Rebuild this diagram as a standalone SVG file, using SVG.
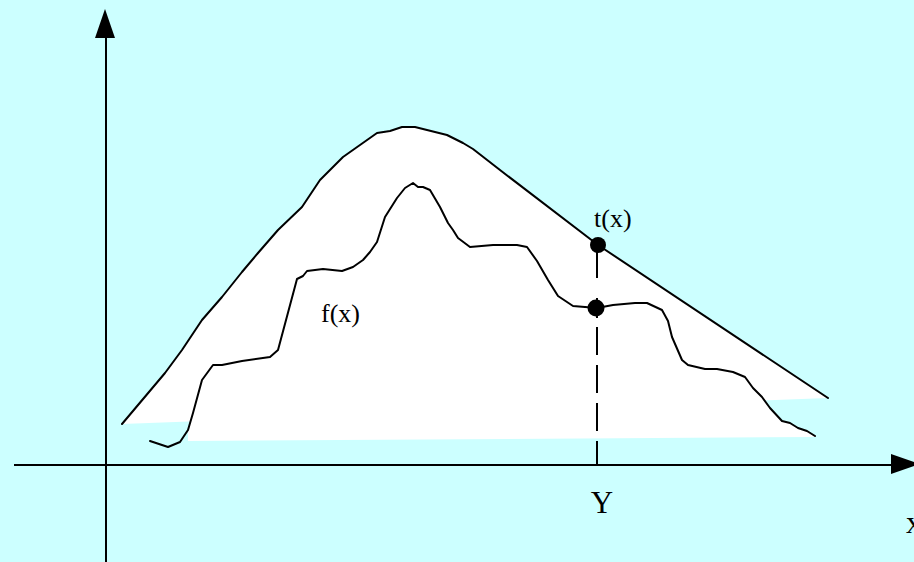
<svg xmlns="http://www.w3.org/2000/svg" width="914" height="562" viewBox="0 0 914 562">
<style>
.curve{fill:none;stroke:#000;stroke-width:2;stroke-linejoin:round;stroke-linecap:round}
.fillw{fill:#fff;stroke:none}
.axis{stroke:#000;stroke-width:2;fill:none}
.lbl{font-family:"Liberation Serif","Times New Roman",serif;fill:#000}
.dot{fill:#000}
</style>
<rect x="0" y="0" width="914" height="562" fill="#CCFFFF"/>
<g id="regions">
<polygon class="fillw" points="122,424 165,373 182,350 202,320 222,297 242,272 258,253 278,230 302,207 320,180 343,157 360,145 377,133 390,131 402,127 415,127 427,130 447,135 463,143 473,149 500,170 598,245 828,398"/>
<polygon class="fillw" points="188,430 193,413 202,380 213,365 222,365 242,361 270,357 278,350 297,279 303,276 307,271 323,269 342,271 353,267 363,260 370,252 377,242 385,217 397,198 405,188 413,183 418,187 423,187 430,190 440,207 448,223 453,230 458,238 470,247 493,245 517,245 527,247 537,261 548,280 558,296 573,306 597,308 613,305 635,303 647,303 662,310 668,321 672,337 682,360 688,365 705,369 717,369 733,372 745,377 753,388 762,397 770,408 782,421 790,423 798,428 807,431 815,436 815,437 188,441"/>
</g>
<g id="axes">
<line class="axis" x1="106" y1="562" x2="106" y2="36"/>
<polygon points="105,9 95,38 115,38" fill="#000"/>
<line class="axis" x1="14" y1="465" x2="893" y2="465"/>
<polygon points="891,454 891,474 920,464" fill="#000"/>
</g>
<g id="t-curve">
<polyline class="curve" points="122,424 165,373 182,350 202,320 222,297 242,272 258,253 278,230 302,207 320,180 343,157 360,145 377,133 390,131 402,127 415,127 427,130 447,135 463,143 473,149 500,170 598,245 828,398"/>
</g>
<g id="f-curve">
<polyline class="curve" points="150,441 168,447 180,442 188,430 193,413 202,380 213,365 222,365 242,361 270,357 278,350 297,279 303,276 307,271 323,269 342,271 353,267 363,260 370,252 377,242 385,217 397,198 405,188 413,183 418,187 423,187 430,190 440,207 448,223 453,230 458,238 470,247 493,245 517,245 527,247 537,261 548,280 558,296 573,306 597,308 613,305 635,303 647,303 662,310 668,321 672,337 682,360 688,365 705,369 717,369 733,372 745,377 753,388 762,397 770,408 782,421 790,423 798,428 807,431 815,436"/>
</g>
<g id="connectors">
<line x1="597" y1="245" x2="597" y2="278" stroke="#000" stroke-width="2"/>
<line x1="597" y1="298" x2="597" y2="318" stroke="#000" stroke-width="2"/>
<line x1="597" y1="327" x2="597" y2="465" stroke="#000" stroke-width="2" stroke-dasharray="28 10"/>
</g>
<g id="points">
<circle class="dot" cx="598" cy="245" r="8"/>
<circle class="dot" cx="596" cy="308" r="8.5"/>
</g>
<g id="labels">
<text class="lbl" x="594" y="227" font-size="26">t(x)</text>
<text class="lbl" x="321" y="322" font-size="26">f(x)</text>
<text class="lbl" x="602" y="513" font-size="31" text-anchor="middle">Y</text>
<text class="lbl" x="906" y="533" font-size="32">x</text>
</g>
</svg>
